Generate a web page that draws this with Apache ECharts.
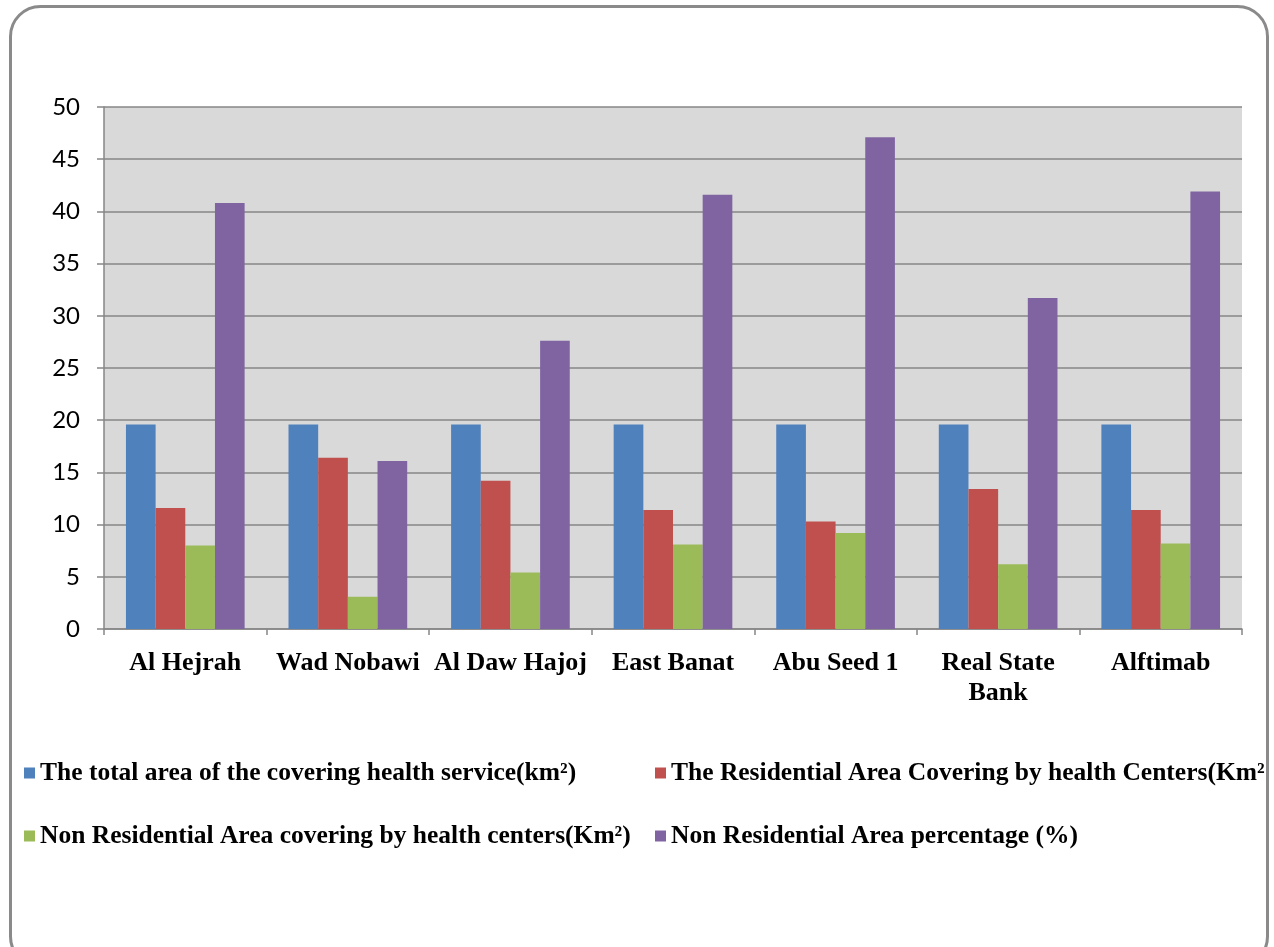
<!DOCTYPE html>
<html>
<head>
<meta charset="utf-8">
<script src="https://cdn.jsdelivr.net/npm/echarts@6/dist/echarts.min.js"></script>
<style>
  html, body { margin: 0; padding: 0; background: #ffffff; }
  #chart { width: 1274px; height: 947px; }
</style>
</head>
<body>
<div id="chart"></div>
<script>
// Health-centre coverage by neighbourhood
const categories = ['Al Hejrah', 'Wad Nobawi', 'Al Daw Hajoj', 'East Banat', 'Abu Seed 1', 'Real State\nBank', 'Alftimab'];
const seriesNames = [
  'The total area of the covering health service(km\u00B2)',
  'The Residential Area Covering by health Centers(Km\u00B2)',
  'Non Residential Area covering by health centers(Km\u00B2)',
  'Non Residential Area percentage (%)'
];
const totalArea       = [19.6, 19.6, 19.6, 19.6, 19.6, 19.6, 19.6];
const residentialArea = [11.6, 16.4, 14.2, 11.4, 10.3, 13.4, 11.4];
const nonResidential  = [8.0, 3.1, 5.4, 8.1, 9.2, 6.2, 8.2];
const nonResidentialPct = [40.8, 16.1, 27.6, 41.6, 47.1, 31.7, 41.9];
const yTicks = [0, 5, 10, 15, 20, 25, 30, 35, 40, 45, 50];

const colors = ['#4f81bd', '#c0504d', '#9bbb59', '#8064a2'];
const valuesList = [totalArea, residentialArea, nonResidential, nonResidentialPct];
const serif = '"Liberation Serif", "Times New Roman", serif';

const legendPos = [
  { left: 24, top: 760 },
  { left: 655, top: 760 },
  { left: 24, top: 823 },
  { left: 655, top: 823 }
];

const chart = echarts.init(document.getElementById('chart'), null, { renderer: 'canvas' });

chart.setOption({
  animation: false,
  backgroundColor: '#ffffff',
  color: colors,
  graphic: [{
    type: 'rect',
    left: 8, top: 4,
    shape: { width: 1257, height: 960, r: 30 },
    style: { fill: 'none', stroke: '#8a8a8a', lineWidth: 3 },
    z: 100
  }],
  legend: legendPos.map((p, i) => ({
    data: [seriesNames[i]],
    left: p.left,
    top: p.top,
    padding: 0,
    itemWidth: 11,
    itemHeight: 11,
    itemGap: 0,
    icon: 'rect',
    selectedMode: false,
    textStyle: {
      fontFamily: serif,
      fontWeight: 'bold',
      fontSize: 25.5,
      color: '#000000',
      width: i === 1 ? 596 : undefined,
      overflow: i === 1 ? 'truncate' : 'none',
      ellipsis: ''
    }
  })),
  grid: { left: 104, right: 32, top: 107, bottom: 318, containLabel: false,
          show: true, backgroundColor: '#d9d9d9', borderWidth: 0 },
  xAxis: {
    type: 'category',
    data: categories,
    axisLine: { show: true, lineStyle: { color: '#868686', width: 1.5 } },
    axisTick: { show: true, length: 6, lineStyle: { color: '#868686', width: 1.5 } },
    axisLabel: {
      fontFamily: serif, fontWeight: 'bold', fontSize: 26, color: '#000000',
      margin: 19, lineHeight: 30, interval: 0
    }
  },
  yAxis: {
    type: 'value',
    min: yTicks[0],
    max: yTicks[yTicks.length - 1],
    interval: yTicks[1] - yTicks[0],
    axisLine: { show: true, lineStyle: { color: '#868686', width: 1.5 } },
    axisTick: { show: true, inside: false, length: 7, lineStyle: { color: '#868686', width: 1.5 } },
    splitLine: { show: true, lineStyle: { color: '#868686', width: 1.5 } },
    axisLabel: { fontFamily: 'Lato, "Open Sans", sans-serif', fontSize: 24, color: '#000000', margin: 24 }
  },
  series: valuesList.map((vals, i) => ({
    name: seriesNames[i],
    type: 'bar',
    data: vals,
    barGap: '0%',
    barCategoryGap: '27%',
    itemStyle: { color: colors[i] }
  }))
});
</script>
</body>
</html>
